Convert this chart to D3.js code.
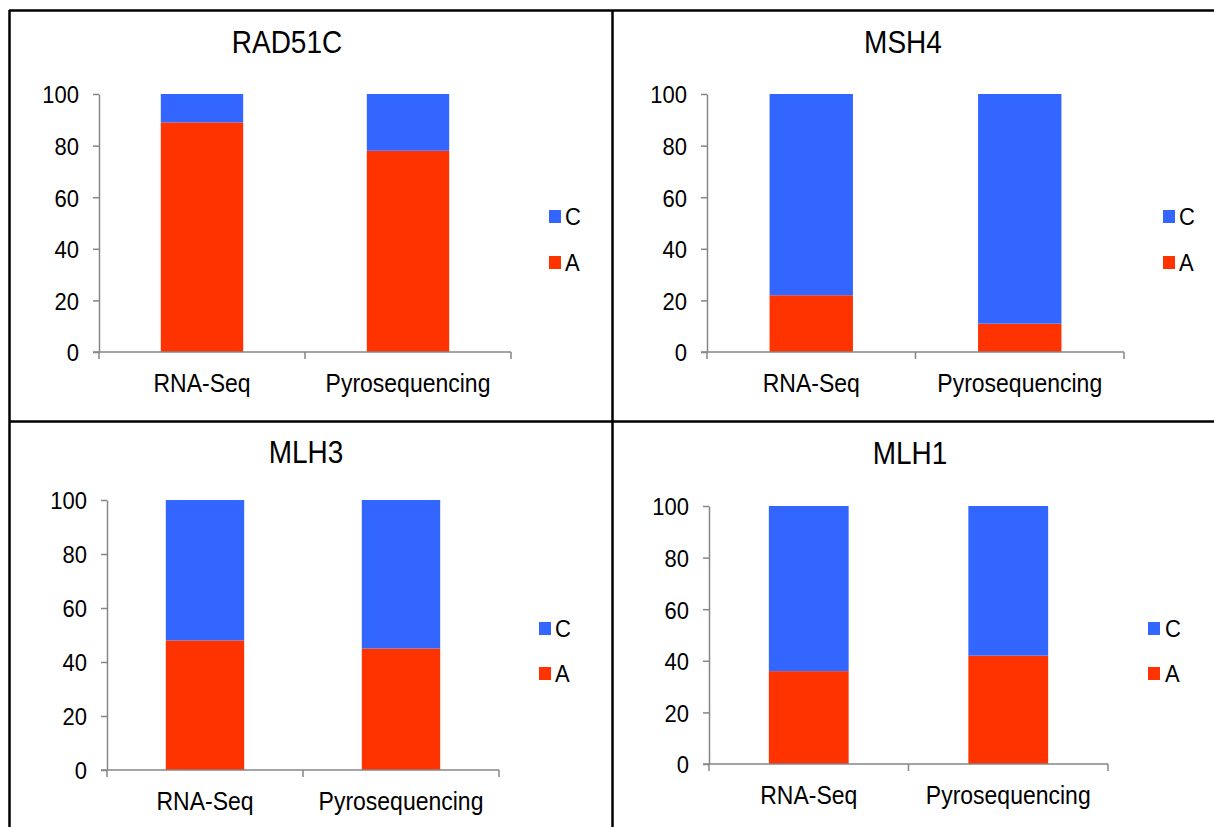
<!DOCTYPE html>
<html>
<head>
<meta charset="utf-8">
<script src="https://cdn.jsdelivr.net/npm/d3@7"></script>
<style>
  html, body { margin: 0; padding: 0; background: #fff; }
  svg { display: block; font-family: "Liberation Sans", Arial, Helvetica, sans-serif; }
</style>
</head>
<body>
<svg id="chart" width="1214" height="827"></svg>
<script>
// ---- data ----
const genes = ["RAD51C", "MSH4", "MLH3", "MLH1"];
const categories = ["RNA-Seq", "Pyrosequencing"];
const seriesNames = ["A", "C"];
const valuesA = [[89, 78], [22, 11], [48, 45], [36, 42]];
const valuesC = [[11, 22], [78, 89], [52, 55], [64, 58]];
const yTicks = [0, 20, 40, 60, 80, 100];
const seriesColors = { A: "#FF3300", C: "#3366FF" };

// ---- layout (positions only) ----
const panels = [
  { left: 99,  right: 511,  top: 94,  bottom: 352, titleX: 287, titleY: 53,  legX: 549,  legTextX: 565,  legCY: 210, legAY: 256 },
  { left: 707, right: 1124, top: 94,  bottom: 352, titleX: 903, titleY: 53,  legX: 1163, legTextX: 1179, legCY: 210, legAY: 256 },
  { left: 107, right: 499,  top: 500, bottom: 770, titleX: 306, titleY: 463, legX: 539,  legTextX: 555,  legCY: 622, legAY: 667 },
  { left: 709, right: 1108, top: 506, bottom: 764, titleX: 910, titleY: 464, legX: 1148, legTextX: 1165, legCY: 622, legAY: 667 }
];
const textStretch = 1.12;

const svg = d3.select("#chart");

function stretch(sel) {
  sel.each(function () {
    const t = d3.select(this);
    const y = +t.attr("y") || 0;
    t.attr("transform", `translate(0,${y}) scale(1,${textStretch}) translate(0,${-y})`);
  });
}

// frame lines
const frame = svg.append("g").attr("stroke", "#000").attr("stroke-width", 2.5).attr("fill", "none");
frame.append("line").attr("x1", 9).attr("x2", 1214).attr("y1", 10.5).attr("y2", 10.5);
frame.append("line").attr("x1", 9.5).attr("x2", 9.5).attr("y1", 10).attr("y2", 827);
frame.append("line").attr("x1", 612.5).attr("x2", 612.5).attr("y1", 10).attr("y2", 827);
frame.append("line").attr("x1", 9).attr("x2", 1214).attr("y1", 421.5).attr("y2", 421.5);

const axisColor = "#868686";

genes.forEach((gene, gi) => {
  const p = panels[gi];
  const g = svg.append("g");

  const x = d3.scaleBand().domain(categories).range([p.left, p.right])
    .paddingInner(0.6).paddingOuter(0.3);
  const y = d3.scaleLinear().domain([0, 100]).range([p.bottom, p.top]);

  const rows = categories.map((c, ci) => ({ cat: c, A: valuesA[gi][ci], C: valuesC[gi][ci] }));
  const stack = d3.stack().keys(seriesNames)(rows);

  // bars
  g.selectAll("g.series").data(stack).join("g")
    .attr("fill", d => seriesColors[d.key])
    .selectAll("rect").data(d => d).join("rect")
    .attr("x", d => x(d.data.cat))
    .attr("width", x.bandwidth())
    .attr("y", d => y(d[1]))
    .attr("height", d => y(d[0]) - y(d[1]));

  // y axis
  const yAxis = g.append("g").attr("transform", `translate(${p.left},0)`)
    .call(d3.axisLeft(y).tickValues(yTicks).tickSize(6).tickPadding(14).tickSizeOuter(0));
  yAxis.select(".domain").attr("stroke", axisColor).attr("stroke-width", 1.5);
  yAxis.selectAll(".tick line").attr("stroke", axisColor).attr("stroke-width", 1.5);
  yAxis.selectAll(".tick text").attr("fill", "#000").attr("font-size", 22)
    .attr("font-family", "Liberation Sans, Arial, sans-serif")
    .attr("dy", "0.36em")
    .attr("transform", `scale(1,${textStretch})`);

  // x axis line with boundary ticks
  const xa = g.append("g");
  xa.append("line").attr("x1", p.left - 6).attr("x2", p.right)
    .attr("y1", p.bottom).attr("y2", p.bottom)
    .attr("stroke", axisColor).attr("stroke-width", 1.5);
  const step = x.step();
  const bounds = [p.left].concat(categories.map(c => x(c) + x.bandwidth() + step * 0.3));
  xa.selectAll("line.b").data(bounds).join("line").attr("class", "b")
    .attr("x1", d => d).attr("x2", d => d)
    .attr("y1", p.bottom).attr("y2", p.bottom + 7)
    .attr("stroke", axisColor).attr("stroke-width", 1.5);

  // category labels
  g.selectAll("text.cat").data(categories).join("text").attr("class", "cat")
    .attr("x", d => x(d) + x.bandwidth() / 2)
    .attr("y", p.bottom + 40)
    .attr("text-anchor", "middle")
    .attr("font-size", 23)
    .text(d => d)
    .call(stretch);

  // title
  g.append("text").attr("x", p.titleX).attr("y", p.titleY)
    .attr("text-anchor", "middle").attr("font-size", 28).text(gene)
    .call(stretch);

  // legend (C above A)
  const legend = [["C", p.legCY], ["A", p.legAY]];
  legend.forEach(([k, ly]) => {
    g.append("rect").attr("x", p.legX).attr("y", ly).attr("width", 12).attr("height", 13)
      .attr("fill", seriesColors[k]);
    g.append("text").attr("x", p.legTextX).attr("y", ly + 15)
      .attr("font-size", 22).text(k)
      .call(stretch);
  });
});
</script>
</body>
</html>
